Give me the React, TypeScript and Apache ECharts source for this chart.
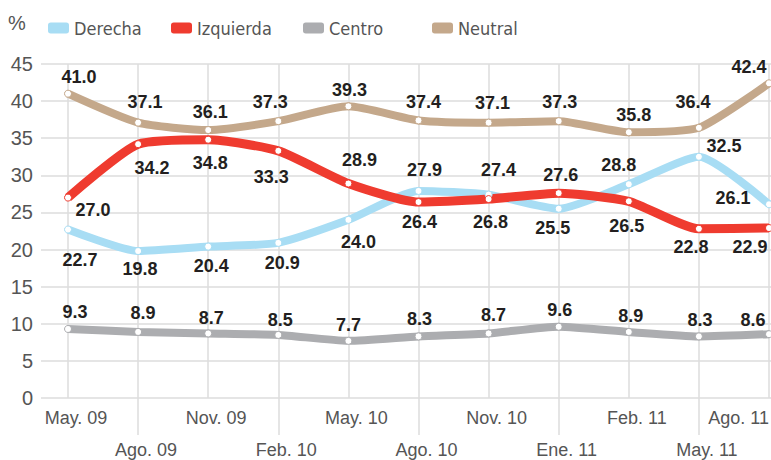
import React, { useEffect, useRef } from "react";
import * as echarts from "echarts";

const categories = ["May. 09", "Ago. 09", "Nov. 09", "Feb. 10", "May. 10", "Ago. 10", "Nov. 10", "Ene. 11", "Feb. 11", "May. 11", "Ago. 11"];
const derecha = [22.7, 19.8, 20.4, 20.9, 24.0, 27.9, 27.4, 25.5, 28.8, 32.5, 26.1];
const izquierda = [27.0, 34.2, 34.8, 33.3, 28.9, 26.4, 26.8, 27.6, 26.5, 22.8, 22.9];
const centro = [9.3, 8.9, 8.7, 8.5, 7.7, 8.3, 8.7, 9.6, 8.9, 8.3, 8.6];
const neutral = [41.0, 37.1, 36.1, 37.3, 39.3, 37.4, 37.1, 37.3, 35.8, 36.4, 42.4];
const yMin = 0;
const yMax = 45;
const yStep = 5;

// label placement (styling, offsets from the point centre)
const derechaLabelOffsets = [[12, 30], [2, 18], [3, 19], [4, 20], [10, 22], [6, -21], [10, -25], [-6, 19], [-10, -19], [25, -11], [-36, -6]];
const izquierdaLabelOffsets = [[25, 12], [14, 24], [2, 23], [-7, 26], [11, -23], [1, 20], [2, 23], [2, -18], [-2, 25], [-8, 18], [-19, 19]];
const centroLabelOffsets = [[7, -17], [5, -19], [3, -15], [2, -15], [0, -16], [1, -17], [5, -18], [1, -17], [2, -16], [1, -16], [-16, -14]];
const neutralLabelOffsets = [[11, -17], [7, -21], [2, -18], [-8, -19], [1, -16], [5, -18], [4, -20], [1, -19], [5, -17], [-6, -26], [-20, -16]];

const COLORS = {
  Derecha: "#a8ddf4",
  Izquierda: "#ef3b2f",
  Centro: "#acadb0",
  Neutral: "#c4a88b",
};

const GRID_TOP = 64;
const GRID_BOTTOM = 62;

function makeSeries(name: string, values: number[], offsets: number[][], width: number) {
  const color = (COLORS as any)[name];
  return {
    name,
    type: "line",
    xAxisIndex: 1,
    yAxisIndex: 1,
    smooth: 0.2,
    symbol: "circle",
    symbolSize: 7,
    showAllSymbol: true,
    color,
    lineStyle: { color, width },
    itemStyle: { color: "#ffffff", borderColor: color, borderWidth: 1 },
    emphasis: { disabled: true },
    label: {
      show: true,
      position: "inside",
      fontFamily: "'Liberation Sans', Arial, sans-serif",
      fontSize: 18,
      fontWeight: "bold",
      color: "#231f20",
      formatter: (p: any) => Number(p.value).toFixed(1),
    },
    data: values.map((v, i) => ({ value: v, label: { offset: offsets[i] } })),
  };
}

function legendAt(name: string, left: number) {
  const color = (COLORS as any)[name];
  return {
    data: [{ name, itemStyle: { color, borderWidth: 0 } }],
    left,
    top: 14,
    icon: "roundRect",
    itemWidth: 21,
    itemHeight: 11,
    itemGap: 0,
    selectedMode: false,
    textStyle: {
      fontFamily: "'Liberation Sans Narrow', 'DejaVu Sans Condensed', 'Liberation Sans', Arial, sans-serif",
      fontSize: 18,
      color: "#555",
    },
  };
}

export default function App() {
  const ref = useRef<HTMLDivElement>(null);
  useEffect(() => {
    if (!ref.current) return;
    const chart = echarts.init(ref.current, undefined, { renderer: "svg" });
    const axisFont = "'Liberation Sans', Arial, sans-serif";
    const lastIdx = categories.length - 1;
    chart.setOption({
      animation: false,
      backgroundColor: "#ffffff",
      legend: [
        legendAt("Derecha", 43),
        legendAt("Izquierda", 166),
        legendAt("Centro", 298),
        legendAt("Neutral", 427),
      ],
      graphic: [
        {
          type: "text",
          left: 8,
          top: 13,
          style: { text: "%", fontSize: 20, fontFamily: axisFont, fill: "#555" },
        },
      ],
      grid: [
        { left: 41, right: 0, top: GRID_TOP, bottom: GRID_BOTTOM, outerBoundsMode: "none", containLabel: false },
        { left: 68, right: 2, top: GRID_TOP, bottom: GRID_BOTTOM, outerBoundsMode: "none", containLabel: false },
      ],
      xAxis: [
        { gridIndex: 0, type: "category", data: categories, show: false },
        {
          gridIndex: 1,
          type: "category",
          data: categories.map((c, i) =>
            i === lastIdx ? { value: c, textStyle: { align: "right", padding: [0, 0, 0, 0] } } : c
          ),
          boundaryGap: false,
          axisLine: { show: false },
          axisTick: {
            show: true,
            interval: (i: number) => i % 2 === 1,
            length: 37,
            lineStyle: { color: "#dcdcdc", width: 1.5 },
          },
          splitLine: { show: true, interval: 0, lineStyle: { color: "#dcdcdc", width: 1.5 } },
          axisLabel: {
            interval: 0,
            margin: 4,
            fontSize: 18,
            lineHeight: 32,
            fontFamily: axisFont,
            color: "#555",
            padding: [0, 0, 0, 16],
            hideOverlap: false,
            formatter: (v: string, i: number) => (i % 2 === 1 ? "\n" + v : v),
          },
        },
      ],
      yAxis: [
        {
          gridIndex: 0,
          type: "value",
          min: yMin,
          max: yMax,
          interval: yStep,
          axisLine: { show: false },
          axisTick: { show: false },
          splitLine: { show: true, lineStyle: { color: "#dcdcdc", width: 1.5 } },
          axisLabel: { margin: 8, fontSize: 20, fontFamily: axisFont, color: "#555" },
        },
        {
          gridIndex: 1,
          type: "value",
          min: yMin,
          max: yMax,
          interval: yStep,
          show: false,
          splitLine: { show: false },
        },
      ],
      series: [
        makeSeries("Derecha", derecha, derechaLabelOffsets, 8),
        makeSeries("Izquierda", izquierda, izquierdaLabelOffsets, 9),
        makeSeries("Centro", centro, centroLabelOffsets, 8),
        makeSeries("Neutral", neutral, neutralLabelOffsets, 8),
      ],
    });
    return () => chart.dispose();
  }, []);
  return (
    <div
      ref={ref}
      style={{ position: "absolute", left: 0, top: 0, width: 771, height: 460 }}
    />
  );
}
